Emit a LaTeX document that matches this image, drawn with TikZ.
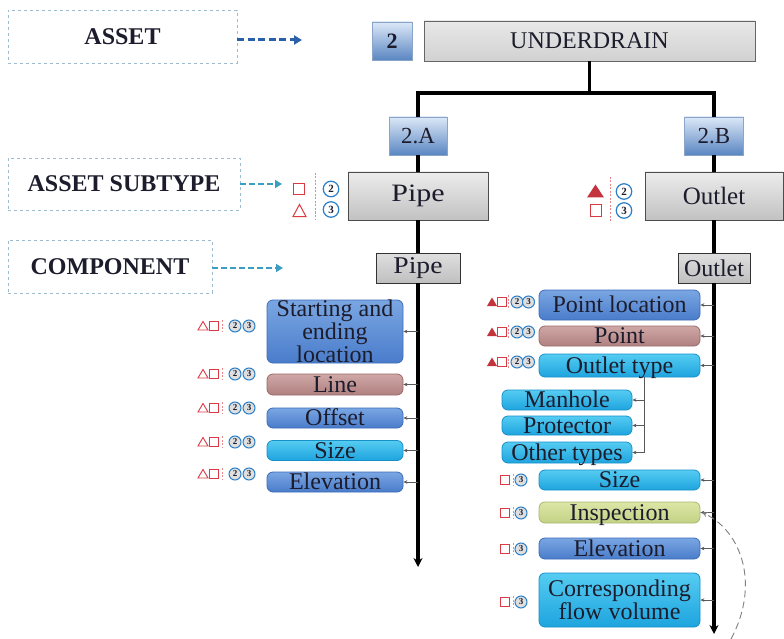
\documentclass[tikz,border=0pt]{standalone}
\usepackage{fontspec}
\setmainfont{Liberation Serif}
\usetikzlibrary{arrows.meta}
\definecolor{dashc}{HTML}{9DBCD0}
\definecolor{arrA}{HTML}{2A5FAA}
\definecolor{arrB}{HTML}{3A9EC0}
\definecolor{mkred}{HTML}{D93A44}
\definecolor{mkblue}{HTML}{2A7FC8}
\definecolor{numtop}{HTML}{DCE8F7}
\definecolor{numbot}{HTML}{5A86C2}
\definecolor{numedge}{HTML}{8AA5C8}
\definecolor{bluetop}{HTML}{7AA6E2}
\definecolor{bluebot}{HTML}{4A7CCB}
\definecolor{blueedge}{HTML}{3D6CB8}
\definecolor{rosytop}{HTML}{CFA8A6}
\definecolor{rosybot}{HTML}{B08080}
\definecolor{rosyedge}{HTML}{9A6A6A}
\definecolor{cyantop}{HTML}{55CCF2}
\definecolor{cyanbot}{HTML}{1EA4DE}
\definecolor{cyanedge}{HTML}{1890C8}
\definecolor{greentop}{HTML}{DCE6A6}
\definecolor{greenbot}{HTML}{C2D284}
\definecolor{greenedge}{HTML}{AAB870}
\definecolor{txt}{HTML}{1C1C2C}
\tikzset{
  lbl/.style={draw=dashc, dashed, line width=0.9, inner sep=0, text=txt,
    font=\bfseries\fontsize{24}{24}\selectfont},
  arra/.style={arrA, dashed, dash pattern=on 7 off 3.5, line width=3, -{Triangle[length=8,width=9]}},
  arrb/.style={arrB, dashed, dash pattern=on 6 off 3, line width=2.2, -{Triangle[length=7,width=8]}},
  numbox/.style={draw=numedge, line width=0.6, top color=numtop, bottom color=numbot, inner sep=0,
    text=txt, font=\fontsize{23}{23}\selectfont},
  graybox/.style={draw=gray!80!black, line width=0.8, top color=gray!18, bottom color=gray!36, inner sep=0,
    text=txt, font=\fontsize{24}{24}\selectfont},
  subbox/.style={draw=gray!60!black, line width=0.9, top color=gray!15, bottom color=gray!48, inner sep=0,
    text=txt, font=\fontsize{25}{25}\selectfont},
  compbox/.style={draw=gray!40!black, line width=0.9, top color=gray!25, bottom color=gray!50, inner sep=0,
    text=txt, font=\fontsize{24}{24}\selectfont},
  rbox/.style={rounded corners=6, inner sep=0, line width=0.8, text=txt, align=center,
    font=\fontsize{24}{19}\selectfont},
  oneline/.style={text height=17, text depth=2},
  bluer/.style={rbox, draw=blueedge, top color=bluetop, bottom color=bluebot},
  rosyr/.style={rbox, draw=rosyedge, top color=rosytop, bottom color=rosybot},
  cyanr/.style={rbox, draw=cyanedge, top color=cyantop, bottom color=cyanbot},
  greenr/.style={rbox, draw=greenedge, top color=greentop, bottom color=greenbot},
  trunk/.style={black, line width=3.6},
  feed/.style={gray!70!black, line width=0.6, -{Stealth[length=4,width=3.5]}},
  otri/.pic={\draw[mkred, line width=1] (-6.5,6) -- (6.5,6) -- (0,-6) -- cycle;},
  ftri/.pic={\fill[mkred!90!black] (-8.5,6.5) -- (8.5,6.5) -- (0,-6.5) -- cycle;},
  osq/.pic={\draw[mkred, line width=1] (-5.5,-5.5) rectangle (5.5,5.5);},
  sotri/.pic={\draw[mkred, line width=0.9] (-5,4) -- (5,4) -- (0,-4.5) -- cycle;},
  sftri/.pic={\fill[mkred!90!black] (-5,4) -- (5,4) -- (0,-4.5) -- cycle;},
  sosq/.pic={\draw[mkred, line width=1] (-4.3,-4.3) rectangle (4.3,4.3);},
  cnum/.pic={\node[circle, draw=mkblue, line width=1.2, inner sep=0, minimum size=15.5,
    text=txt, font=\bfseries\fontsize{11}{11}\selectfont] {#1};},
  scnum/.pic={\node[circle, draw=mkblue, line width=1, fill=gray!25, inner sep=0, minimum size=12,
    text=txt, font=\bfseries\fontsize{9}{9}\selectfont] {#1};},
}
\newcommand\mkdash[3]{\draw[mkred!60, dashed, dash pattern=on 2 off 1.5, line width=0.7] (#1,{#2-#3}) -- (#1,{#2+#3});}
\newcommand\lrow[1]{\pic at (203,#1) {sotri}; \pic at (214,#1) {sosq}; \mkdash{222}{#1}{6}
  \pic at (235,#1) {scnum=2}; \pic at (249,#1) {scnum=3};}
\newcommand\rrow[1]{\pic at (492,#1) {sftri}; \pic at (502,#1) {sosq}; \mkdash{508}{#1}{7}
  \pic at (517,#1) {scnum=2}; \pic at (528.5,#1) {scnum=3};}
\newcommand\srow[1]{\pic at (505,#1) {sosq}; \mkdash{513}{#1}{6} \pic at (521,#1) {scnum=3};}
\begin{document}
\begin{tikzpicture}[x=1pt,y=-1pt]
\useasboundingbox (0,0) rectangle (784,639);
\fill[white] (0,0) rectangle (784,639);

% legend boxes
\node[lbl, minimum width=229, minimum height=53] (asset) at (122.5,36.5) {ASSET};
\node[lbl, minimum width=232, minimum height=52] (subtype) at (124,184) {ASSET SUBTYPE};
\node[lbl, minimum width=204, minimum height=53] (component) at (110,266.5) {COMPONENT};
\coordinate (ae) at (302,40);
\coordinate (se) at (282,184);
\coordinate (ce) at (283,268);
\draw[arra] (asset.east |- ae) -- (ae);
\draw[arrb] (subtype.east |- se) -- (se);
\draw[arrb] (component.east |- ce) -- (ce);

% top of tree
\node[numbox, minimum width=40, minimum height=38, font=\bfseries\fontsize{22}{22}\selectfont] (n2) at (392,41) {2};
\node[graybox, minimum width=331, minimum height=40] (under) at (589.5,41) {UNDERDRAIN};
\node[numbox, minimum width=58, minimum height=38] (na) at (418,136) {2.A};
\node[numbox, minimum width=59, minimum height=38] (nb) at (714,136) {2.B};
\coordinate (split) at (589.5,93);
\draw[trunk] (under.south) -- (split);
\draw[trunk] (split) -| (na.north);
\draw[trunk] (split) -| (nb.north);

\node[subbox, minimum width=140, minimum height=48] (pipes) at (418,196) {\scalebox{1.2}[1]{Pipe}};
\node[subbox, minimum width=138, minimum height=48] (outs) at (714,196) {Outlet};
\node[compbox, minimum width=84, minimum height=30] (pipec) at (418,268) {\scalebox{1.15}[1]{Pipe}};
\node[compbox, minimum width=72, minimum height=30] (outc) at (714,268) {Outlet};
\draw[trunk] (na.south) -- (pipes.north);
\draw[trunk] (nb.south) -- (outs.north);
\draw[trunk] (pipes.south) -- (pipec.north);
\draw[trunk] (outs.south) -- (outc.north);
\coordinate (lend) at (418,567);
\coordinate (rend) at (714,634);
\draw[trunk, -{Stealth[length=9,width=9]}] (pipec.south) -- (lend);
\draw[trunk, -{Stealth[length=9,width=9]}] (outc.south) -- (rend);

% subtype markers
\pic at (299,189) {osq};
\pic at (299.5,210.5) {otri};
\mkdash{315}{196}{23}
\pic at (331,189) {cnum=2};
\pic at (331,209.5) {cnum=3};
\pic at (595.5,191) {ftri};
\pic at (596,210.5) {osq};
\mkdash{610}{199}{22}
\pic at (624,191.5) {cnum=2};
\pic at (624,210.5) {cnum=3};

% left components
\node[bluer, minimum width=136, minimum height=63] (sel) at (335,331.5) {Starting and\\ending\\location};
\node[rosyr, oneline, minimum width=136, minimum height=21] (line) at (335,384.5) {Line};
\node[bluer, oneline, minimum width=136, minimum height=20] (offset) at (335,418) {Offset};
\node[cyanr, oneline, minimum width=136, minimum height=20] (lsize) at (335,450.5) {Size};
\node[bluer, oneline, minimum width=136, minimum height=20] (lelev) at (335,482) {Elevation};
\foreach \b in {sel,line,offset,lsize,lelev}
  \draw[feed] (pipec.south |- \b.east) -- (\b.east);
\lrow{326}
\lrow{374}
\lrow{408}
\lrow{442}
\lrow{474}

% right components
\node[bluer, oneline, minimum width=161, minimum height=30] (ploc) at (619.5,305) {Point location};
\node[rosyr, oneline, minimum width=161, minimum height=20] (point) at (619.5,336) {Point};
\node[cyanr, oneline, minimum width=161, minimum height=23] (otype) at (619.5,365.5) {Outlet type};
\node[cyanr, oneline, minimum width=130, minimum height=20] (manhole) at (567,400) {Manhole};
\node[cyanr, oneline, minimum width=130, minimum height=18] (prot) at (567,425.5) {Protector};
\node[cyanr, oneline, minimum width=130, minimum height=21] (other) at (567,452.5) {Other types};
\node[cyanr, oneline, minimum width=161, minimum height=20] (rsize) at (619.5,480) {Size};
\node[greenr, oneline, minimum width=161, minimum height=21] (insp) at (619.5,512.5) {Inspection};
\node[bluer, oneline, minimum width=161, minimum height=21] (relev) at (619.5,548.5) {Elevation};
\node[cyanr, minimum width=161, minimum height=54, font=\fontsize{24}{23}\selectfont] (flow) at (619.5,600) {Corresponding\\flow volume};
\foreach \b in {ploc,point,otype,rsize,insp,relev,flow}
  \draw[feed] (outc.south |- \b.east) -- (\b.east);
\coordinate (ot) at (644,377);
\draw[gray!70!black, line width=0.6] (ot) -- (ot |- other.east);
\foreach \b in {manhole,prot,other}
  \draw[feed] (ot |- \b.east) -- (\b.east);
\rrow{302}
\rrow{332}
\rrow{362}
\srow{480}
\srow{513}
\srow{549}
\srow{602}

% dashed return curve
\coordinate (cend) at (731,639);
\draw[gray, dashed, dash pattern=on 7 off 4, line width=0.9, -{Stealth[length=5,width=5]}]
  (cend) .. controls (760,585) and (742,532) .. ([xshift=2pt]insp.east);
\end{tikzpicture}
\end{document}
